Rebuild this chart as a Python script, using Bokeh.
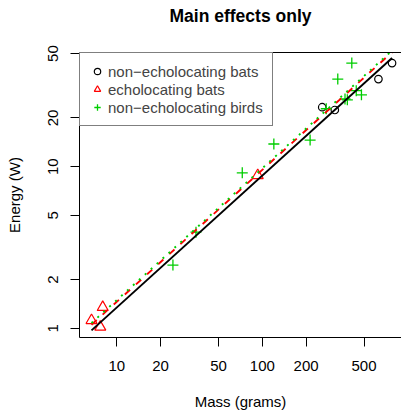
import numpy as np
from bokeh.plotting import figure
from bokeh.models import FixedTicker, LogAxis, Legend, LegendItem, Range1d
from bokeh.embed import file_html
from bokeh.resources import INLINE

# ---- data (mass in grams, in-flight energy in W) ----
mass_nebats = [779, 628, 258, 315]
energy_nebats = [43.70, 34.80, 23.30, 22.40]
mass_ebats = [93, 8, 6.7, 7.7]
energy_ebats = [8.83, 1.35, 1.12, 1.02]
mass_birds = [24.3, 35, 72.8, 120, 213, 275, 370, 384, 442, 412, 330, 480]
energy_birds = [2.46, 3.93, 9.15, 13.8, 14.6, 22.8, 26.2, 25.9, 29.5, 43.7, 34.8, 27.8]

labels = ["non\u2212echolocating bats", "echolocating bats", "non\u2212echolocating birds"]
x_ticks = [10, 20, 50, 100, 200, 500]
y_ticks = [1, 2, 5, 10, 20, 50]
title_text = "Main effects only"

# ---- main-effects fit: log(E) ~ log(M) + type ----
all_m = np.array(mass_nebats + mass_ebats + mass_birds, dtype=float)
all_e = np.array(energy_nebats + energy_ebats + energy_birds, dtype=float)
is_eb = np.array([0] * 4 + [1] * 4 + [0] * 12, dtype=float)
is_bd = np.array([0] * 8 + [1] * 12, dtype=float)
X = np.column_stack([np.ones_like(all_m), np.log(all_m), is_bd, is_eb])
beta, *_ = np.linalg.lstsq(X, np.log(all_e), rcond=None)
xl = np.array([all_m.min(), all_m.max()])
def fit(offset):
    return np.exp(beta[0] + beta[1] * np.log(xl) + offset)

FONT = "Liberation Sans"
p = figure(width=401, height=412, x_axis_type="log", y_axis_type="log",
           x_range=Range1d(5.54, 904.6), y_range=Range1d(0.8776, 50.79),
           output_backend="svg", toolbar_location=None,
           min_border_left=79, min_border_right=0, min_border_top=52, min_border_bottom=72)
p.background_fill_color = "white"
p.border_fill_color = "white"
p.outline_line_color = None
p.xgrid.visible = False
p.ygrid.visible = False

for ax in (p.xaxis[0], p.yaxis[0]):
    ax.axis_line_color = "black"
    ax.major_tick_line_color = "black"
    ax.major_tick_in = 0
    ax.major_tick_out = 9
    ax.minor_tick_line_color = None
    ax.major_label_text_font = FONT
    ax.major_label_text_font_size = "15px"
    ax.major_label_text_color = "black"
    ax.axis_label_text_font = FONT
    ax.axis_label_text_font_size = "15px"
    ax.axis_label_text_font_style = "normal"
    ax.axis_label_text_color = "black"

p.xaxis.ticker = FixedTicker(ticks=x_ticks)
p.yaxis.ticker = FixedTicker(ticks=y_ticks)
p.xaxis.major_label_overrides = {t: str(t) for t in x_ticks}
p.yaxis.major_label_overrides = {t: str(t) for t in y_ticks}
p.xaxis.axis_label = "Mass (grams)"
p.yaxis.axis_label = "Energy (W)"
p.yaxis.major_label_orientation = "parallel"
p.xaxis.major_label_standoff = 14
p.xaxis.axis_label_standoff = 19
p.yaxis.major_label_standoff = 12
p.yaxis.axis_label_standoff = 23

# top border of the box, carrying the chart title as its label
top = LogAxis(ticker=FixedTicker(ticks=[]), major_tick_out=0, major_tick_in=0,
              minor_tick_line_color=None, major_label_text_font_size="0px",
              major_label_standoff=0, axis_line_color="black",
              axis_label=title_text, axis_label_text_font=FONT,
              axis_label_text_font_size="17.5px", axis_label_text_font_style="bold",
              axis_label_text_color="black", axis_label_standoff=27)
p.add_layout(top, "above")

# points
r1 = p.scatter(mass_nebats, energy_nebats, marker="circle", size=7.5,
               fill_color=None, line_color="black", line_width=1.2)
r2 = p.scatter(mass_ebats, energy_ebats, marker="triangle", size=11,
               fill_color=None, line_color="#FF0000", line_width=1.2)
r3 = p.scatter(mass_birds, energy_birds, marker="cross", size=11,
               line_color="#00CD00", line_width=1.3)

# fitted lines
p.line(xl, fit(0.0), line_color="black", line_width=1.9)
p.line(xl, fit(beta[3]), line_color="#FF0000", line_width=1.9, line_dash="7 8")
p.line(xl, fit(beta[2]), line_color="#00CD00", line_width=1.9, line_dash="2 6")

legend = Legend(items=[LegendItem(label=labels[0], renderers=[r1]),
                       LegendItem(label=labels[1], renderers=[r2]),
                       LegendItem(label=labels[2], renderers=[r3])],
                location="top_left", margin=0, padding=9, spacing=0,
                glyph_width=16, glyph_height=18, label_height=18, label_standoff=3,
                label_text_font=FONT, label_text_font_size="15px",
                border_line_color="black", border_line_width=1,
                background_fill_color="white", background_fill_alpha=1.0)
p.add_layout(legend)

open("out.html", "w").write(file_html(p, INLINE))
